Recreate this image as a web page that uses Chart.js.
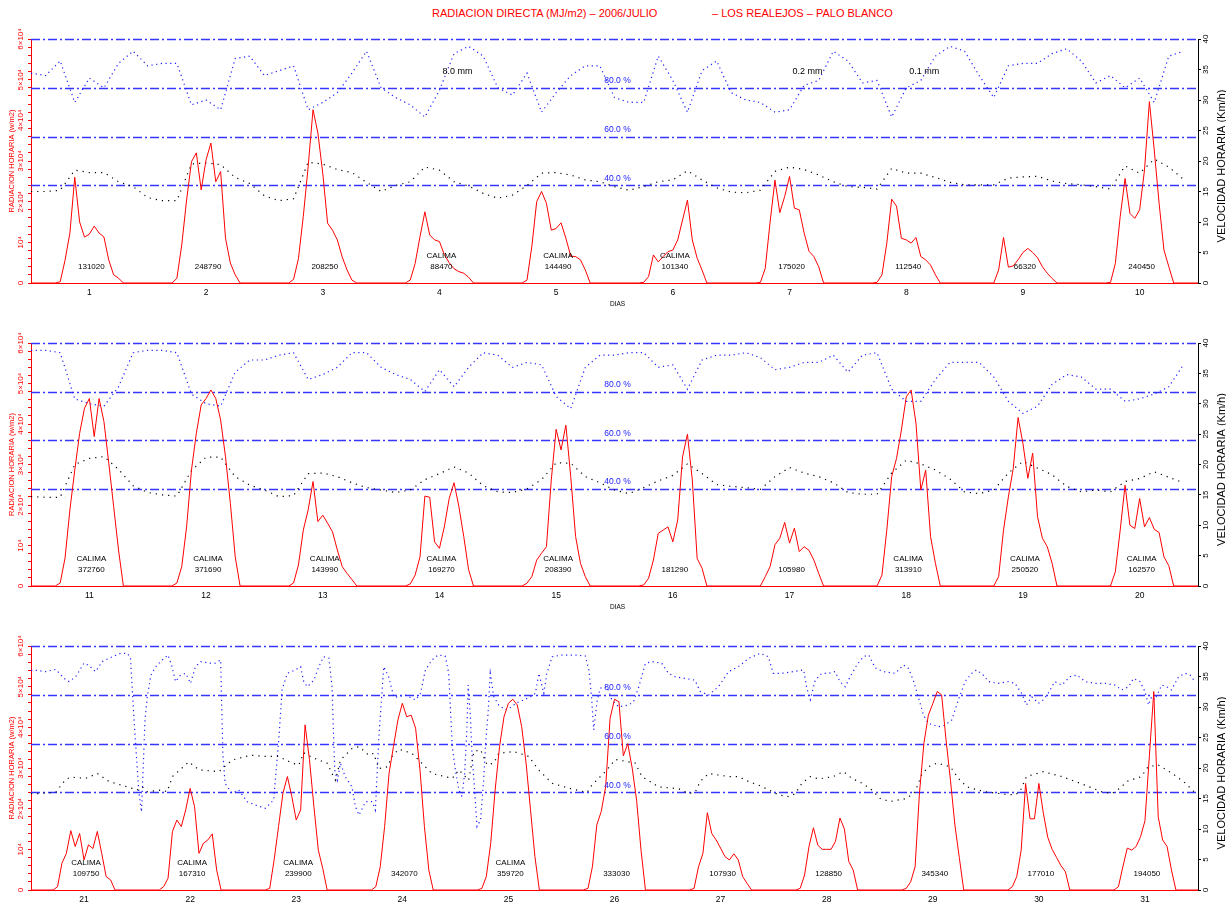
<!DOCTYPE html>
<html>
<head>
<meta charset="utf-8">
<script src="https://cdn.jsdelivr.net/npm/chart.js@4.4.1/dist/chart.umd.min.js"></script>
<style>
body { margin: 0; background: #fff; width: 1226px; height: 907px; position: relative; overflow: hidden; font-family: "Liberation Sans", Arial, sans-serif; }
.title { position: absolute; top: 7px; line-height: 13px; color: #ff0000; font-size: 11px; white-space: pre; }
canvas { position: absolute; left: 0; }
</style>
</head>
<body>
<div class="title" style="left:432px">RADIACION DIRECTA (MJ/m2) – 2006/JULIO</div>
<div class="title" style="left:712px">– LOS REALEJOS – PALO BLANCO</div>
<canvas id="c1" width="1226" height="310" style="top:0px"></canvas>
<canvas id="c2" width="1226" height="303" style="top:310px"></canvas>
<canvas id="c3" width="1226" height="294" style="top:613px"></canvas>
<script>
// hourly radiation (w/m2), one array per day, hours 5..19
var rad1 = [
    [0, 300, 5600, 12300, 26000, 15000, 11300, 12000, 14000, 12300, 11300, 5600, 2000, 1200, 0],
    [0, 1150, 9350, 20400, 29800, 32000, 22900, 30300, 34400, 24900, 27400, 11000, 4900, 2000, 0],
    [0, 900, 6000, 16400, 28600, 42600, 36900, 27000, 14700, 13000, 10600, 6400, 3200, 700, 0],
    [0, 740, 4800, 11400, 17500, 11800, 10600, 10200, 7000, 5000, 3500, 2800, 2400, 1400, 0],
    [0, 700, 9000, 20000, 22500, 19600, 13000, 13400, 14800, 11000, 6600, 6500, 5700, 3200, 0],
    [0, 160, 1560, 6900, 5200, 6500, 7700, 8100, 10600, 15500, 20400, 10600, 6100, 3200, 0],
    [0, 160, 3600, 15000, 25300, 17300, 21300, 26200, 18400, 18000, 12300, 7800, 6500, 4000, 0],
    [0, 160, 2000, 9800, 20600, 18900, 11000, 10600, 9800, 11200, 6500, 5700, 4400, 2000, 0],
    [0, 0, 3200, 11200, 3900, 4200, 5700, 7500, 8500, 7500, 6200, 4000, 2400, 1100, 0],
    [0, 160, 4800, 16300, 25700, 17100, 15900, 18000, 27800, 44600, 32700, 19600, 8100, 4000, 0]
];
var rad2 = [
    [0, 740, 6900, 18800, 28600, 37700, 43900, 46300, 36900, 46300, 40600, 30300, 19600, 8900, 0],
    [0, 740, 4800, 14600, 28600, 37700, 44700, 46300, 48400, 46300, 41000, 31900, 20400, 7200, 0],
    [0, 740, 5200, 13800, 18800, 25800, 15900, 17500, 15500, 13400, 8900, 4800, 3100, 1600, 0],
    [0, 500, 2700, 7200, 22200, 21900, 10900, 9300, 14600, 21600, 25500, 19600, 12200, 4000, 0],
    [0, 700, 2300, 6400, 8100, 9700, 26200, 38700, 33600, 39700, 27000, 12200, 5600, 2300, 0],
    [0, 250, 1900, 6400, 13000, 13800, 14600, 10900, 16300, 31900, 37500, 26200, 6800, 4400, 0],
    [0, 0, 2300, 4800, 10200, 11800, 15700, 10600, 14300, 8500, 9700, 8800, 6400, 3100, 0],
    [0, 0, 2700, 13800, 27000, 31500, 38500, 46700, 48400, 40200, 23700, 28600, 12200, 5600, 0],
    [0, 0, 2300, 13800, 22000, 29000, 41600, 35200, 26600, 32800, 17100, 11800, 9700, 5600, 0],
    [0, 0, 3500, 13800, 24900, 15000, 14200, 21600, 14600, 16900, 14000, 13200, 7200, 5000, 0]
];
var rad3 = [
    [0, 800, 6600, 9000, 14600, 10700, 13900, 7400, 11100, 10200, 14400, 9000, 3300, 2500, 0],
    [0, 800, 2900, 14400, 17200, 15600, 19700, 25000, 20500, 9000, 11500, 12300, 13800, 4900, 0],
    [0, 400, 7400, 15600, 23800, 27900, 23000, 17200, 19700, 40600, 32000, 20500, 9800, 5300, 0],
    [0, 800, 5700, 15600, 28700, 35300, 41800, 45900, 42600, 43000, 39800, 29500, 15600, 4900, 0],
    [0, 400, 3300, 11500, 24600, 35300, 42600, 45900, 46900, 45500, 40200, 31200, 19700, 8200, 0],
    [0, 400, 5700, 16000, 19300, 25400, 42200, 46900, 46300, 33000, 36000, 30000, 22100, 9800, 0],
    [0, 400, 5700, 9000, 19000, 13900, 12300, 10300, 8200, 7400, 8900, 7400, 3300, 1600, 0],
    [0, 400, 3700, 10700, 15300, 11000, 10000, 10000, 10000, 12000, 17700, 15000, 7000, 4900, 0],
    [0, 400, 2000, 5700, 24000, 36100, 43000, 45800, 48800, 48000, 36900, 27000, 16000, 8000, 0],
    [0, 800, 3300, 9800, 26200, 17500, 17500, 26200, 19000, 13000, 10000, 8000, 6000, 4500, 0],
    [0, 800, 5700, 10300, 9800, 10700, 13100, 17000, 33000, 48800, 18000, 12300, 10700, 4900, 0]
];

// relative humidity (%) every 3 hours
var hum1 = [
    86, 85, 91, 74, 84, 80, 90, 95,
    89, 90, 90, 73, 75, 71, 92, 93,
    85, 87, 89, 71, 74, 78, 86, 95,
    80, 76, 73, 68, 79, 94, 97, 93,
    80, 77, 86, 70, 78, 85, 89, 89,
    76, 74, 74, 93, 83, 70, 87, 91,
    78, 75, 74, 70, 71, 81, 83, 95,
    91, 82, 83, 68, 80, 83, 93, 97,
    95, 85, 76, 89, 90, 90, 94, 96,
    91, 82, 85, 80, 84, 74, 93, 95
];
var hum2 = [
    97, 97, 96, 77, 75, 74, 82, 96,
    97, 97, 96, 79, 75, 74, 88, 93,
    93, 95, 96, 85, 87, 90, 96, 96,
    90, 87, 85, 80, 89, 82, 90, 96,
    95, 90, 92, 91, 78, 73, 90, 95,
    95, 96, 96, 90, 91, 81, 93, 95,
    95, 96, 94, 89, 90, 92, 92, 95,
    88, 95, 96, 81, 76, 76, 85, 92,
    92, 92, 86, 76, 71, 74, 83, 87,
    86, 81, 81, 76, 77, 79, 82, 91
];
// [hour, %] for the last panel (sharp drops need their own times)
var hum3 = [
    [0, 90], [1.4, 90], [3.3, 89.5], [5.6, 90.4], [7.5, 86.7], [8.6, 85.4], [10.1, 87.4], [12, 93], [13.1, 92],
    [14.6, 89.5], [16.1, 93.6], [18.4, 95.6], [20.3, 97], [21.8, 97], [22.5, 95], [23.3, 70], [24.4, 40], [25, 32],
    [25.8, 70], [26.3, 79], [27.1, 88], [28.2, 91.5], [29.7, 94.3], [31, 96.3], [31.9, 91.5], [32.7, 85.4], [33.8, 88],
    [35, 88.8], [36.1, 84.7], [37.2, 91.5], [38.4, 93.6], [40.2, 93], [41.7, 93], [42.9, 94.3], [43.4, 56], [43.9, 43.7],
    [45.5, 39.6], [47, 41], [48.9, 36.2], [50.8, 34.8], [53, 33.5], [54.9, 36.9], [56.1, 62.8], [56.8, 82], [58, 88.8],
    [59.8, 90.2], [61, 91.5], [61.7, 85.4], [62.5, 83.3], [64, 86], [65.1, 91.5], [66.2, 95.6], [67.4, 95], [68.1, 83.3],
    [68.7, 49.2], [69.3, 45], [70, 51.9], [71.1, 46.4], [72.6, 42.3], [73.4, 34.2], [74.2, 30.7], [75.7, 36.2], [77.2, 36.2],
    [77.9, 32.8], [78.7, 62.8], [79.8, 91.5], [80.9, 87.4], [82.1, 79], [83.2, 79.2], [84.7, 79.9], [87, 77.9], [88.1, 80.5],
    [89.2, 90], [90.7, 94.3], [92.1, 96.3], [93.7, 95.9], [94.5, 88.8], [95.3, 58.7], [96, 49.2], [96.8, 41], [97.5, 38.3],
    [98.1, 47.8], [98.6, 65.6], [98.9, 84], [99.4, 71], [99.8, 54.6], [100.2, 45], [100.9, 26], [101.7, 28.7], [102.4, 45],
    [102.9, 61.5], [103.4, 72.4], [103.9, 88.8], [104.7, 79.2], [105.8, 75.8], [107.3, 73.8], [108.8, 75.1], [109.6, 76.5],
    [111.5, 77.9], [113, 79.2], [114.1, 80.6], [114.9, 88.8], [116, 80.6], [116.7, 88.8], [117.9, 95.6], [120.1, 96.3],
    [123.2, 96.3], [125.4, 95.9], [126.2, 90.2], [126.8, 79.2], [127.3, 65.6], [128.1, 77.9], [128.8, 82.7], [130.3, 83.3],
    [131.4, 77.9], [132.9, 75.1], [135.2, 75.8], [136.3, 77.2], [137.5, 83.3], [139, 92.9], [140.5, 93.6], [142.7, 92.9],
    [144.2, 88.8], [145.7, 87.4], [148, 86.7], [150.2, 86], [151.4, 81.3], [153.3, 79.9], [155.5, 83.3], [157.8, 89.5],
    [160, 91.5], [162.3, 94.9], [165, 97], [166.8, 95.6], [167.9, 88.8], [169.8, 88.8], [172.5, 89.5], [174.8, 90.2],
    [175.5, 82.7], [176.3, 78], [177.4, 86], [178.9, 88.8], [180.4, 88.8], [181.9, 89.5], [183, 85.4], [184.2, 83.3],
    [185.3, 87.4], [186.8, 92.2], [188.3, 95.6], [189.5, 96.3], [191, 91], [192.8, 89.5], [195.5, 88.8], [197.4, 92.2],
    [198.5, 90.8], [199.6, 86], [200.7, 79.2], [201.9, 71.7], [203, 68.3], [204.2, 67.6], [205.3, 66.9], [206.8, 67.6],
    [208.3, 69.7], [209.8, 77.9], [211.3, 85.4], [212.8, 88.8], [213.9, 90.2], [215.4, 88.1], [216.6, 85.4], [218.8, 84.7],
    [221.1, 85.4], [222.6, 84.7], [224.1, 80.6], [225.2, 75.8], [226.4, 79.2], [227.9, 76.5], [229, 77.9], [230.1, 80.6],
    [231.6, 85.4], [233.2, 84], [235, 87.4], [236.6, 88.1], [238.5, 85.4], [240.7, 84.7], [243, 84.7], [245.2, 84],
    [246.7, 82], [248.3, 83.3], [249.4, 86.7], [250.9, 85.4], [252, 81.3], [252.8, 75.8], [253.5, 79.2], [254.2, 77.9],
    [255.8, 84], [256.9, 83.3], [258, 82], [259.6, 87.4], [261.1, 88.8], [262.2, 88.1], [263.3, 85.4]
];

// wind speed (km/h) every 3 hours
var wind1 = [
    15, 15, 15.2, 18.5, 18.1, 18.1, 16.6, 15.8,
    14, 13.5, 13.5, 19.5, 19.7, 19.4, 17.3, 16.3,
    14.3, 13.5, 13.8, 19.8, 19.5, 18.6, 18.1, 16.5,
    15, 16, 16.6, 19, 18.5, 16.6, 15.9, 14.7,
    13.9, 14.4, 16, 18, 18.1, 17.7, 16.9, 16.6,
    15.8, 15.2, 15.8, 16.6, 16.9, 18.4, 16.9, 15.6,
    14.9, 14.8, 15.2, 18.3, 19, 18.6, 17.7, 16.6,
    15.8, 15.7, 15.4, 18.8, 18, 18, 17.3, 16.5,
    16.1, 16.1, 16.1, 17.2, 17.4, 17.5, 16.7, 16.3,
    16.1, 15.8, 15.4, 19.2, 18, 20.3, 19, 17
];
var wind2 = [
    14.7, 14.6, 14.6, 20, 21, 21.3, 19.2, 16.5,
    15.4, 15, 14.8, 19, 21.2, 21.2, 18, 16.6,
    15.8, 14.7, 14.9, 18.5, 18.6, 18, 17, 16.2,
    15.8, 15.4, 15.8, 17.5, 18.5, 19.6, 18.6, 16.5,
    15.5, 15.4, 16, 17.5, 20.3, 20.2, 18, 17,
    15.8, 15.2, 16.2, 17.3, 18.2, 20.1, 18.5, 16.7,
    16.4, 16.2, 15.9, 18, 19.5, 18.6, 18, 17,
    15.4, 15.1, 15.1, 18.6, 20.7, 20.1, 19.1, 17.6,
    15.5, 15.2, 15.8, 18.6, 20.5, 19.4, 18.3, 16.4,
    15.5, 15.8, 15.5, 17.2, 17.7, 18.8, 17.9, 17
];
var wind3 = [
    [0, 15.8], [1.4, 15.8], [5.6, 16], [7.8, 18.1], [9, 18.5], [12.4, 18.3], [15, 19.1], [17.6, 17.8], [21.4, 17],
    [24, 16.4], [25.2, 16.9], [26.3, 16.1], [29.7, 16.4], [30.8, 16.1], [32, 18.6], [35.7, 21], [38, 19.7], [42.5, 19.4],
    [45.5, 21.3], [49.7, 22.1], [53, 21.9], [56, 21.9], [59.1, 20.8], [60.6, 20.5], [61.7, 22.5], [64, 21.6], [67, 20.8],
    [68.1, 19.1], [68.9, 18], [70, 21.3], [72.6, 23.2], [74.2, 23.5], [76.4, 22.1], [77.5, 22.4], [78.7, 19.9], [80.6, 20.2],
    [81.7, 21.9], [83.2, 23.1], [86.2, 22.4], [89.2, 20.2], [90.7, 19.1], [95.3, 18.3], [96.8, 19.7], [99, 18], [100.2, 22.7],
    [101.7, 23], [103.2, 20.5], [104.7, 20.8], [105.8, 22.4], [109.2, 22.7], [112.6, 21.9], [114.8, 19.7], [117.9, 17.5],
    [121.6, 16.7], [125.8, 16], [126.9, 17.2], [130.3, 19.7], [132.2, 21.4], [135.2, 21], [136.7, 20.8], [138.2, 18.6],
    [142, 16.9], [146.5, 16.6], [148.8, 15.8], [150.3, 16.1], [151.4, 17.8], [153.3, 19.1], [157.8, 18.6], [160, 18.6],
    [162.3, 17.8], [164.6, 17.2], [166.9, 16.4], [169.1, 15.6], [171.4, 15.3], [172.9, 15.8], [174.4, 17.5], [176.3, 18.6],
    [178.2, 18.2], [181.5, 18.6], [183.8, 19.4], [185.7, 18.3], [188, 17.5], [190.2, 16.4], [192.1, 15], [194.3, 14.5],
    [198.1, 15], [200, 16.1], [201.5, 18.9], [203, 20.2], [204.9, 20.8], [208, 20.2], [209.8, 18.3], [211.7, 16.9],
    [215.8, 16.1], [220.4, 15.7], [222.6, 15.6], [223.7, 16.1], [225.2, 18.6], [229, 19.4], [233.2, 18.6], [237.7, 17.4],
    [242.2, 16.1], [244.5, 15.8], [246.4, 16.7], [247.9, 17.8], [251.2, 18.6], [252.7, 20.2], [255, 20.5], [258.2, 19.1],
    [261.2, 17.5], [263.5, 15.8]
];

var days1 = [1, 2, 3, 4, 5, 6, 7, 8, 9, 10];
var days2 = [11, 12, 13, 14, 15, 16, 17, 18, 19, 20];
var days3 = [21, 22, 23, 24, 25, 26, 27, 28, 29, 30, 31];
var totals1 = [131020, 248790, 208250, 88470, 144490, 101340, 175020, 112540, 66320, 240450];
var totals2 = [372760, 371690, 143990, 169270, 208390, 181290, 105980, 313910, 250520, 162570];
var totals3 = [109750, 167310, 239900, 342070, 359720, 333030, 107930, 128850, 345340, 177010, 194050];
var calima1 = [0, 0, 0, 1, 1, 1, 0, 0, 0, 0];
var calima2 = [1, 1, 1, 1, 1, 0, 0, 1, 1, 1];
var calima3 = [1, 1, 1, 0, 1, 0, 0, 0, 0, 0, 0];
var rain1 = [[4, '8.0 mm'], [7, '0.2 mm'], [8, '0.1 mm']];
var humLevels = [40, 60, 80, 100];
var radTickText = {0: '0', 10000: '10⁴', 20000: '2×10⁴', 30000: '3×10⁴', 40000: '4×10⁴', 50000: '5×10⁴', 60000: '6×10⁴'};

var FONT = '"Liberation Sans", Arial, sans-serif';
Chart.defaults.font.family = FONT;
Chart.defaults.animation = false;

function radPoints(days) {
    var pts = [{x: 0, y: 0}];
    days.forEach(function (vals, i) {
        vals.forEach(function (v, j) { pts.push({x: i * 24 + 5 + j, y: v}); });
    });
    pts.push({x: days.length * 24, y: 0});
    return pts;
}
function stepPoints(vals) {
    return vals.map(function (v, i) { return {x: i * 3, y: v}; });
}
function pairPoints(pairs) {
    return pairs.map(function (p) { return {x: p[0], y: p[1]}; });
}

var refLines = {
    id: 'refLines',
    beforeDatasetsDraw: function (chart) {
        var ctx = chart.ctx, a = chart.chartArea, s = chart.scales.yh;
        ctx.save();
        ctx.strokeStyle = '#3535ff';
        ctx.lineWidth = 1.3;
        ctx.setLineDash([9, 3, 2, 3]);
        humLevels.forEach(function (v) {
            var y = Math.round(s.getPixelForValue(v)) + 0.5;
            ctx.beginPath();
            ctx.moveTo(a.left, y);
            ctx.lineTo(a.right, y);
            ctx.stroke();
        });
        ctx.restore();
    }
};

function drawNotes(chart, o) {
    var ctx = chart.ctx, a = chart.chartArea;
    var sx = chart.scales.x, sr = chart.scales.yr, sv = chart.scales.yv, sh = chart.scales.yh;
    var mid = (a.left + a.right) / 2 + 3;
    ctx.save();
    ctx.fillStyle = '#000';
    ctx.textAlign = 'center';
    ctx.textBaseline = 'middle';
    ctx.font = '8px ' + FONT;
    o.totals.forEach(function (t, i) {
        var x = sx.getPixelForValue(i * 24 + 12) + 2;
        ctx.fillText(String(t), x, sr.getPixelForValue(4000));
        if (o.calima[i]) ctx.fillText('CALIMA', x, sr.getPixelForValue(6600));
    });
    ctx.font = '9px ' + FONT;
    ctx.textAlign = 'left';
    (o.rain || []).forEach(function (r) {
        ctx.fillText(r[1], sx.getPixelForValue((r[0] - o.days[0]) * 24 + 12) + 3, sv.getPixelForValue(34.7));
    });
    ctx.fillStyle = '#2020ff';
    ctx.textAlign = 'center';
    ctx.font = '8.5px ' + FONT;
    [80, 60, 40].forEach(function (v) {
        ctx.fillText(v.toFixed(1) + ' %', mid, sh.getPixelForValue(v) - 7);
    });
    if (o.dias) {
        ctx.fillStyle = '#000';
        ctx.font = '6.5px ' + FONT;
        ctx.fillText('DIAS', mid, a.bottom + 21);
    }
    var cy = (a.top + a.bottom) / 2;
    ctx.save();
    ctx.translate(12, cy);
    ctx.rotate(-Math.PI / 2);
    ctx.fillStyle = '#ff0000';
    ctx.font = '7.5px ' + FONT;
    ctx.fillText('RADIACION HORARIA (w/m2)', 0, 0);
    ctx.restore();
    ctx.save();
    ctx.translate(1222, cy + 5);
    ctx.rotate(-Math.PI / 2);
    ctx.fillStyle = '#000';
    ctx.font = '11px ' + FONT;
    ctx.fillText('VELOCIDAD HORARIA (Km/h)', 0, 0);
    ctx.restore();
    ctx.restore();
}

function makePanel(id, o) {
    var n = o.days.length;
    return new Chart(document.getElementById(id), {
        type: 'line',
        data: {
            datasets: [
                {data: radPoints(o.rad), yAxisID: 'yr', borderColor: '#ff0000', borderWidth: 1},
                {data: o.wind, yAxisID: 'yv', borderColor: '#000000', borderWidth: 1.2, borderDash: [1.2, 5]},
                {data: o.hum, yAxisID: 'yh', borderColor: '#1f1fff', borderWidth: 1.2, borderDash: [1.2, 3.5]}
            ]
        },
        options: {
            responsive: false,
            devicePixelRatio: 1,
            layout: {padding: {top: o.top, left: 0, right: 0, bottom: 0}},
            elements: {point: {radius: 0}, line: {tension: 0}},
            plugins: {legend: {display: false}, tooltip: {enabled: false}},
            scales: {
                x: {
                    type: 'linear', min: 0, max: n * 24,
                    afterBuildTicks: function (s) {
                        s.ticks = o.days.map(function (d, i) { return {value: i * 24 + 12}; });
                    },
                    afterFit: function (s) { s.height = o.xh; },
                    ticks: {
                        callback: function (v) { return String(o.days[Math.round((v - 12) / 24)]); },
                        color: '#000', font: {size: 8.5}, padding: 5, autoSkip: false, maxRotation: 0
                    },
                    grid: {display: false, drawTicks: false},
                    border: {display: true, color: '#ff0000'}
                },
                yr: {
                    position: 'left', min: 0, max: 60000,
                    afterFit: function (s) { s.width = 31; },
                    ticks: {
                        stepSize: 2000, maxTicksLimit: 40, autoSkip: false,
                        callback: function (v) { return radTickText[v] || ''; },
                        color: '#ff0000', font: {size: 8}, minRotation: 90, maxRotation: 90,
                        crossAlign: 'center', padding: -4
                    },
                    grid: {drawOnChartArea: false, tickLength: 3, color: '#ff0000'},
                    border: {color: '#ff0000'}
                },
                yv: {
                    position: 'right', min: 0, max: 40,
                    afterFit: function (s) { s.width = 28; },
                    ticks: {
                        stepSize: 5, autoSkip: false, color: '#000', font: {size: 8},
                        minRotation: 90, maxRotation: 90, crossAlign: 'center', padding: 0
                    },
                    grid: {drawOnChartArea: false, tickLength: 3, color: '#000'},
                    border: {color: '#000'}
                },
                yh: {display: false, min: 0, max: 100}
            }
        },
        plugins: [refLines, {id: 'notes', afterDatasetsDraw: function (chart) { drawNotes(chart, o); }}]
    });
}

makePanel('c1', {days: days1, rad: rad1, hum: stepPoints(hum1), wind: stepPoints(wind1),
    totals: totals1, calima: calima1, rain: rain1, dias: true, top: 39, xh: 27});
makePanel('c2', {days: days2, rad: rad2, hum: stepPoints(hum2), wind: stepPoints(wind2),
    totals: totals2, calima: calima2, dias: true, top: 33, xh: 27});
makePanel('c3', {days: days3, rad: rad3, hum: pairPoints(hum3), wind: pairPoints(wind3),
    totals: totals3, calima: calima3, dias: false, top: 33, xh: 17});
</script>
</body>
</html>
